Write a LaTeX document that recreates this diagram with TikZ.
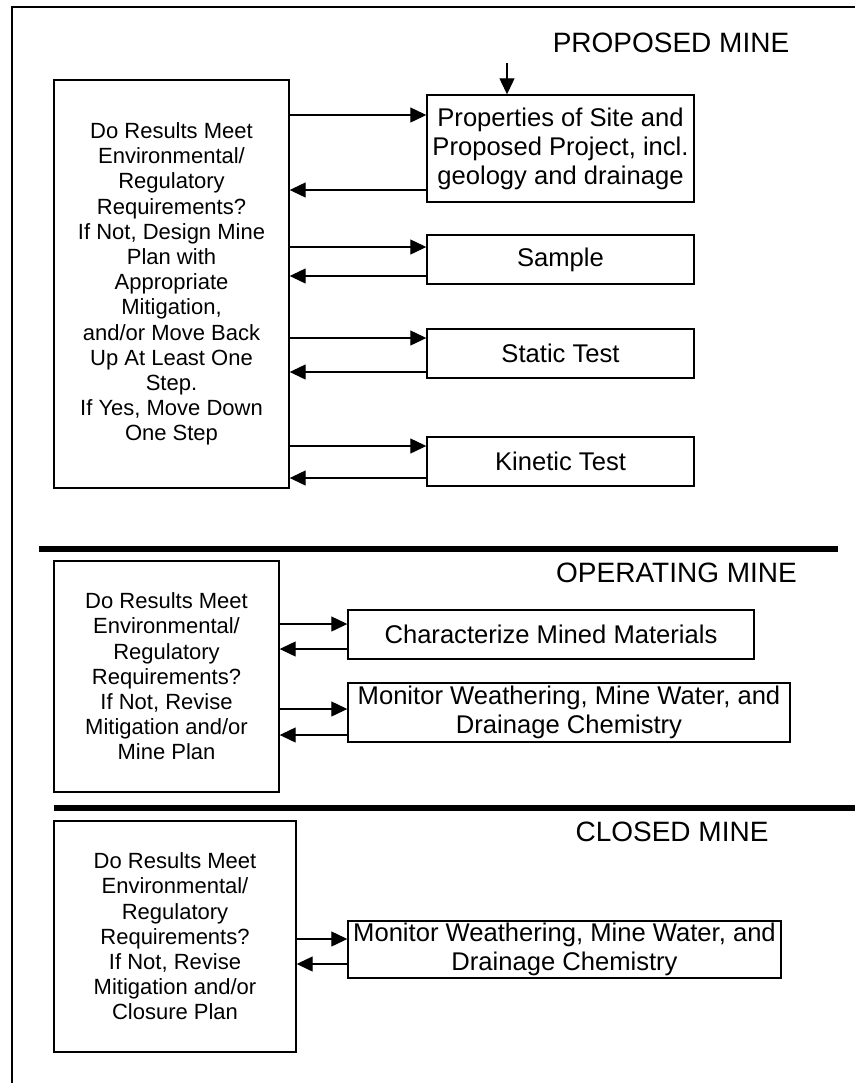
\documentclass[tikz,border=0pt]{standalone}
\usepackage{fontspec}
\setmainfont{Liberation Sans}
\usetikzlibrary{arrows.meta}

\begin{document}
\begin{tikzpicture}
    [x=0.5pt, y=-0.5pt,
     checkbox/.style={rectangle,draw,line width=0.7pt,inner sep=1pt,align=center,
       font=\fontsize{11}{12.6}\selectfont},
     stepbox/.style={rectangle,draw,line width=0.7pt,inner sep=1pt,align=center,
       font=\fontsize{12.8}{14.5}\selectfont},
     phase/.style={inner sep=0pt,font=\fontsize{14}{16}\selectfont},
     arr/.style={-{Triangle[length=8pt,width=7.5pt]},line width=0.6pt},
     divider/.style={line width=2.6pt}]
    \useasboundingbox (0,0) rectangle (855,1083);
    \draw[line width=0.7pt] (12,1083) -- (12,7) -- (855,7);

    \node (PM) at (671,43) [phase] {PROPOSED MINE};
    \node (L1) at (171.5,284) [checkbox,minimum width=117.5pt,minimum height=204pt]
      {Do Results Meet\\Environmental/\\Regulatory\\Requirements?\\If Not, Design Mine\\Plan with\\Appropriate\\Mitigation,\\and/or Move Back\\Up At Least One\\Step.\\If Yes, Move Down\\One Step};
    \node (P) at (560.5,148.5) [stepbox,minimum width=133.5pt,minimum height=53.5pt]
      {Properties of Site and\\Proposed Project, incl.\\geology and drainage};
    \node (S) at (560.5,259.5) [stepbox,minimum width=133.5pt,minimum height=24.5pt] {Sample};
    \node (ST) at (560.5,353.5) [stepbox,minimum width=133.5pt,minimum height=24.5pt] {Static Test};
    \node (K) at (560.5,461.5) [stepbox,minimum width=133.5pt,minimum height=24.5pt] {Kinetic Test};
    \coordinate (in) at (507,63);
    \draw[arr] (in) -- (in |- P.north);
    \foreach \b/\ya/\yb in {P/115/190, S/247/276, ST/338/372, K/446/478} {
      \draw[arr] (L1.east |- 0,\ya) -- (\b.west |- 0,\ya);
      \draw[arr] (\b.west |- 0,\yb) -- (L1.east |- 0,\yb);
    }
    \draw[divider] (39,549) -- (838,549);

    \node (OM) at (676.5,573) [phase] {OPERATING MINE};
    \node (L2) at (166.5,676.5) [checkbox,minimum width=112.5pt,minimum height=115.5pt]
      {Do Results Meet\\Environmental/\\Regulatory\\Requirements?\\If Not, Revise\\Mitigation and/or\\Mine Plan};
    \node (C) at (551,634.5) [stepbox,minimum width=203pt,minimum height=24.5pt]
      {Characterize Mined Materials};
    \node (M1) at (569,712.5) [stepbox,minimum width=221pt,minimum height=29.5pt]
      {Monitor Weathering, Mine Water, and\\Drainage Chemistry};
    \foreach \b/\ya/\yb in {C/624/649, M1/709/735} {
      \draw[arr] (L2.east |- 0,\ya) -- (\b.west |- 0,\ya);
      \draw[arr] (\b.west |- 0,\yb) -- (L2.east |- 0,\yb);
    }
    \draw[divider] (54,808) -- (855,808);

    \node (CM) at (672,832) [phase] {CLOSED MINE};
    \node (L3) at (175,936.5) [checkbox,minimum width=121pt,minimum height=115.5pt]
      {Do Results Meet\\Environmental/\\Regulatory\\Requirements?\\If Not, Revise\\Mitigation and/or\\Closure Plan};
    \node (M2) at (564.5,949.5) [stepbox,minimum width=216.5pt,minimum height=28.5pt]
      {Monitor Weathering, Mine Water, and\\Drainage Chemistry};
    \draw[arr] (L3.east |- 0,939) -- (M2.west |- 0,939);
    \draw[arr] (M2.west |- 0,964) -- (L3.east |- 0,964);
\end{tikzpicture}
\end{document}
